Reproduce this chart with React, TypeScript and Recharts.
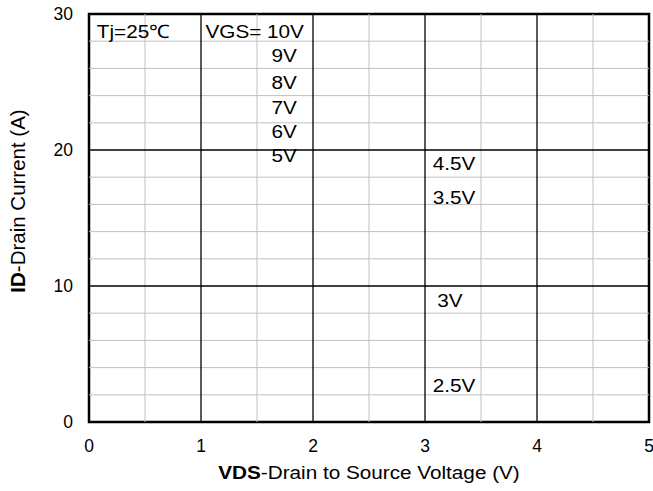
import React from 'react';
import { ComposedChart, XAxis, YAxis, ReferenceLine, ReferenceArea, Scatter } from 'recharts';

const xTicks = [0, 1, 2, 3, 4, 5];
const yTicks = [0, 10, 20, 30];
const xMajorGrid = [1, 2, 3, 4];
const xMinorGrid = [0.5, 1.5, 2.5, 3.5, 4.5];
const yMajorGrid = [10, 20];
const yMinorGrid = [2, 4, 6, 8, 12, 14, 16, 18, 22, 24, 26, 28];

const annotationText = ['Tj=25℃', 'VGS= 10V', '9V', '8V', '7V', '6V', '5V', '4.5V', '3.5V', '3V', '2.5V'];
const annotationX = [0.07, 1.04, 1.63, 1.63, 1.63, 1.63, 1.63, 3.07, 3.07, 3.11, 3.07];
const annotationY = [28.71, 28.71, 26.99, 25.0, 23.1, 21.4, 19.63, 19.0, 16.5, 8.93, 2.68];

const annotations = annotationText.map((text, i) => ({ x: annotationX[i], y: annotationY[i], text }));

const FONT = '"Liberation Sans", Arial, sans-serif';
const STRETCH = 1.12;

const AnnotationShape = (props: any) => {
  const { cx, cy, payload } = props;
  return (
    <text
      x={0}
      y={0}
      transform={`translate(${cx},${cy}) scale(${STRETCH},1)`}
      dominantBaseline="central"
      textAnchor="start"
      fontSize={18.5}
      fill="#000"
      fontFamily={FONT}
    >
      {payload.text}
    </text>
  );
};

const XTitle = (props: any) => {
  const vb = props.viewBox || {};
  const cx = vb.x + vb.width / 2;
  const cy = vb.y + 50;
  return (
    <text
      x={0}
      y={0}
      transform={`translate(${cx},${cy}) scale(${STRETCH},1)`}
      textAnchor="middle"
      dominantBaseline="central"
      fontSize={18.5}
      fill="#000"
      fontFamily={FONT}
    >
      <tspan fontWeight="bold">VDS</tspan>
      <tspan>-Drain to Source Voltage (V)</tspan>
    </text>
  );
};

const YTitle = (props: any) => {
  const vb = props.viewBox || {};
  const cx = 17;
  const cy = vb.y + vb.height / 2 - 17;
  return (
    <text
      x={0}
      y={0}
      transform={`translate(${cx},${cy}) rotate(-90)`}
      textAnchor="middle"
      dominantBaseline="central"
      fontSize={20.5}
      fill="#000"
      fontFamily={FONT}
    >
      <tspan fontWeight="bold">ID</tspan>
      <tspan>-Drain Current (A)</tspan>
    </text>
  );
};

export default function App() {
  return (
    <div style={{ position: 'absolute', left: 0, top: 0, width: 653, height: 491, background: '#fff' }}>
      <ComposedChart width={653} height={491} data={annotations} margin={{ top: 14, right: 4, left: 0, bottom: 0 }} style={{ fontFamily: FONT }}>
        <XAxis
          dataKey="x"
          type="number"
          domain={[0, 5]}
          ticks={xTicks}
          interval={0}
          allowDataOverflow
          axisLine={false}
          tickLine={false}
          tickSize={0}
          tickMargin={18}
          height={69}
          tick={{ fill: '#000', fontSize: 17.5, fontFamily: FONT }}
          label={<XTitle />}
        />
        <YAxis
          dataKey="y"
          type="number"
          domain={[0, 30]}
          ticks={yTicks}
          interval={0}
          allowDataOverflow
          axisLine={false}
          tickLine={false}
          tickSize={0}
          tickMargin={16}
          width={89}
          tick={{ fill: '#000', fontSize: 17.5, fontFamily: FONT }}
          label={<YTitle />}
        />
        {xMinorGrid.map((v) => (
          <ReferenceLine key={'xm' + v} x={v} stroke="#c0c0c0" strokeWidth={1} />
        ))}
        {yMinorGrid.map((v) => (
          <ReferenceLine key={'ym' + v} y={v} stroke="#c0c0c0" strokeWidth={1} />
        ))}
        {xMajorGrid.map((v) => (
          <ReferenceLine key={'xM' + v} x={v} stroke="#000" strokeWidth={1.3} />
        ))}
        {yMajorGrid.map((v) => (
          <ReferenceLine key={'yM' + v} y={v} stroke="#000" strokeWidth={1.3} />
        ))}
        <ReferenceArea x1={0} x2={5} y1={0} y2={30} fill="none" fillOpacity={0} stroke="#000" strokeWidth={2.5} />
        <Scatter data={annotations} dataKey="y" isAnimationActive={false} shape={<AnnotationShape />} />
      </ComposedChart>
    </div>
  );
}
